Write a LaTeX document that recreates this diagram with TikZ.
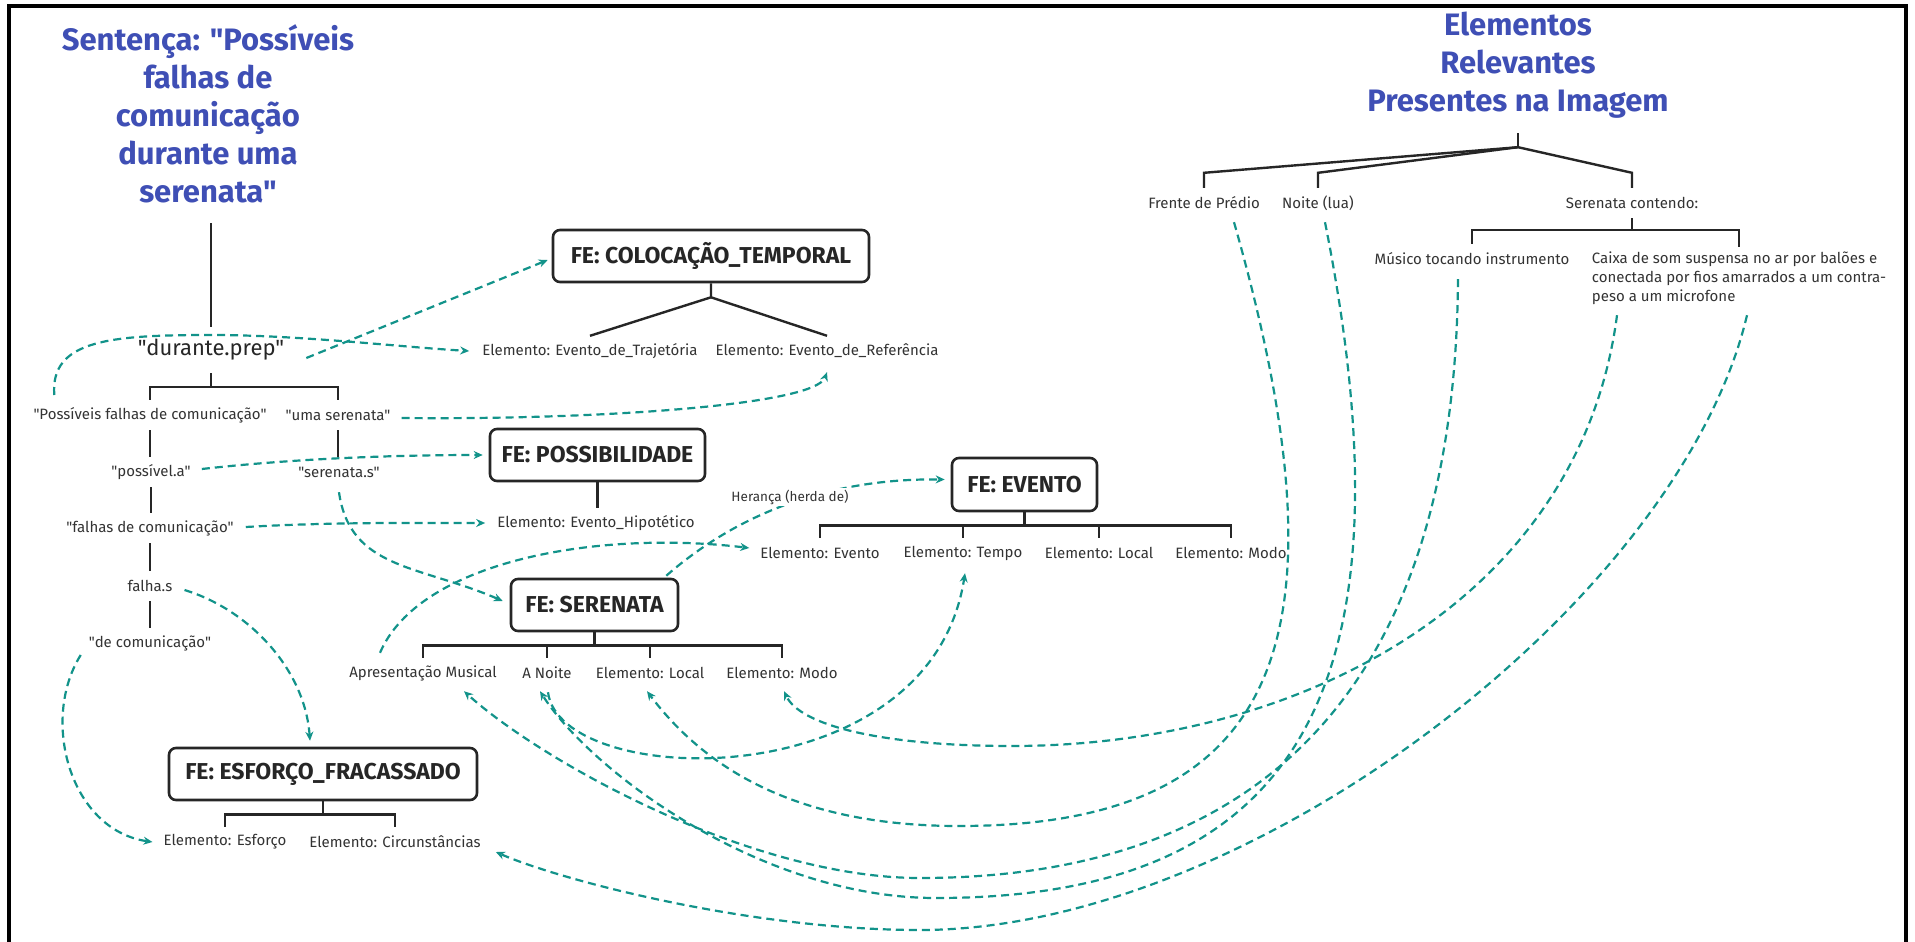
\documentclass[tikz,border=0pt]{standalone}
\usepackage{fontspec}
\setmainfont{Fira Sans}[Ligatures=TeXOff]
\usetikzlibrary{arrows.meta}
\definecolor{ttl}{HTML}{3F4FB5}
\definecolor{teal2}{HTML}{12938A}
\definecolor{ink}{HTML}{262626}
\definecolor{txt}{HTML}{333333}
\begin{document}
\begin{tikzpicture}[x=1pt,y=-1pt,
  tree/.style={draw=ink,line width=2.4pt},
  febox/.style={draw=ink,line width=2.6pt,rounded corners=7pt,fill=white,font=\fontsize{23}{27}\selectfont\bfseries,text=ink,inner sep=0pt},
  lbl/.style={font=\fontsize{15}{18}\selectfont,text=txt,inner sep=0pt,minimum height=30pt},
  ttlst/.style={font=\fontsize{31}{38}\selectfont\bfseries,text=ttl,align=center,inner sep=0pt},
  conn/.style={draw=teal2,line width=2.2pt,dash pattern=on 8pt off 5pt,-{Stealth[length=9pt,width=8pt]}},
]
\fill[white] (0,0) rectangle (1915,942);
\useasboundingbox (0,0) rectangle (1915,942);
\draw[line width=3.5pt,black] (9,942) -- (9,6) -- (1906,6) -- (1906,942);

% left title and sentence tree
\node[ttlst,minimum height=218pt] (title) at (208,114) {Sentença: "Possíveis\\falhas de\\comunicação\\durante uma\\serenata"};
\node[font=\fontsize{22}{26}\selectfont,text=ink,inner sep=0pt,minimum height=46pt] (durante) at (211,350) {"durante.prep"};
\node[lbl] (possiveis) at (150,415) {"Possíveis falhas de comunicação"};
\node[lbl] (uma) at (338,415) {"uma serenata"};
\node[lbl] (possivel) at (151,472) {"possível.a"};
\node[lbl] (serenatas) at (339,472) {"serenata.s"};
\node[lbl] (falhas) at (150,528) {"falhas de comunicação"};
\node[lbl] (falha) at (150,586) {falha.s};
\node[lbl] (decom) at (150,643) {"de comunicação"};

% frames
\node[febox,minimum width=316pt,minimum height=52pt] (colo) at (711,256) {FE: COLOCAÇÃO\_TEMPORAL};
\node[lbl] (traj) at (590,351) {Elemento: Evento\_de\_Trajetória};
\node[lbl] (ref) at (827,351) {Elemento: Evento\_de\_Referência};
\node[febox,minimum width=215pt,minimum height=52pt] (poss) at (597.5,455) {FE: POSSIBILIDADE};
\node[lbl] (hipo) at (596,523) {Elemento: Evento\_Hipotético};
\node[febox,minimum width=145pt,minimum height=53pt] (evt) at (1024.5,484.5) {FE: EVENTO};
\node[lbl] (eevento) at (820,553) {Elemento: Evento};
\node[lbl] (etempo) at (963,553) {Elemento: Tempo};
\node[lbl] (elocal) at (1099,553) {Elemento: Local};
\node[lbl] (emodo) at (1231,553) {Elemento: Modo};
\node[febox,minimum width=167pt,minimum height=52pt] (sere) at (594.5,605) {FE: SERENATA};
\node[lbl] (apres) at (423,673) {Apresentação Musical};
\node[lbl] (anoite) at (547,673) {A Noite};
\node[lbl] (slocal) at (650,673) {Elemento: Local};
\node[lbl] (smodo) at (782,673) {Elemento: Modo};
\node[febox,minimum width=308pt,minimum height=52pt] (esf) at (323,774) {FE: ESFORÇO\_FRACASSADO};
\node[lbl] (eesf) at (225,842) {Elemento: Esforço};
\node[lbl] (circ) at (395,842) {Elemento: Circunstâncias};

% right title and tree
\node[ttlst,minimum height=135pt] (title2) at (1518,65.5) {Elementos\\Relevantes\\Presentes na Imagem};
\node[lbl] (frente) at (1204,203) {Frente de Prédio};
\node[lbl] (noite) at (1318,203) {Noite (lua)};
\node[lbl] (sercont) at (1632,203) {Serenata contendo:};
\node[lbl] (musico) at (1472,259) {Músico tocando instrumento};
\node[font=\fontsize{15}{19}\selectfont,text=txt,inner sep=0pt,align=left,minimum height=62pt] (caixa) at (1739,278) {Caixa de som suspensa no ar por balões e\\conectada por fios amarrados a um contra-\\peso a um microfone};

% tree lines
\draw[tree] (title.south -| durante.north) -- (durante.north);
\draw[tree] (durante.south) -- ++(0,14) coordinate (dj) -| (possiveis.north);
\draw[tree] (dj) -| (uma.north);
\draw[tree] (possiveis.south) -- (possiveis.south |- possivel.north);
\draw[tree] (possivel.south) -- (possivel.south |- falhas.north);
\draw[tree] (falhas.south) -- (falha.north);
\draw[tree] (falha.south) -- (decom.north);
\draw[tree] (uma.south) -- (uma.south |- serenatas.north);
\draw[tree] (colo.south) -- ++(0,14) coordinate (cj) -- (traj.north);
\draw[tree] (cj) -- (ref.north);
\draw[tree] (poss.south) -- (poss.south |- hipo.north);
\draw[tree] (evt.south) -- ++(0,13) coordinate (ej);
\draw[tree] (eevento.north) |- (emodo.north |- ej) -- (emodo.north);
\draw[tree] (etempo.north) -- (etempo.north |- ej);
\draw[tree] (elocal.north) -- (elocal.north |- ej);
\draw[tree] (sere.south) -- ++(0,13) coordinate (sj);
\draw[tree] (apres.north) |- (smodo.north |- sj) -- (smodo.north);
\draw[tree] (anoite.north) -- (anoite.north |- sj);
\draw[tree] (slocal.north) -- (slocal.north |- sj);
\draw[tree] (esf.south) -- ++(0,13) coordinate (fj);
\draw[tree] (eesf.north) |- (circ.north |- fj) -- (circ.north);
\draw[tree] (title2.south) -- ++(0,14) coordinate (rj);
\draw[tree] (rj) -- ([yshift=15pt]frente.north) -- (frente.north);
\draw[tree] (rj) -- ([yshift=15pt]noite.north) -- (noite.north);
\draw[tree] (rj) -- ([yshift=15pt]sercont.north) -- (sercont.north);
\draw[tree] (sercont.south) -- ++(0,12) coordinate (kj);
\draw[tree] (musico.north) |- (caixa.north |- kj) -- (caixa.north);

% dashed connectors
\draw[conn] ([xshift=22pt,yshift=-8pt]durante.east) -- ([xshift=-4pt,yshift=-4pt]colo.west);
\draw[conn] ([xshift=21pt,yshift=20pt]possiveis.west) .. controls (50,340) and (110,335) .. (211,335) .. controls (300,335) and (400,347) .. ([xshift=-13pt]traj.west);
\draw[conn] ([xshift=11pt,yshift=-3pt]uma.east) .. controls (600,420) and (815,405) .. ([yshift=-6pt]ref.south);
\draw[conn] ([xshift=11pt,yshift=3pt]possivel.east) .. controls (300,458) and (400,455) .. ([xshift=-6pt]poss.west);
\draw[conn] ([xshift=12pt,yshift=1pt]falhas.east) .. controls (330,522) and (420,523) .. ([xshift=-12pt]hipo.west);
\draw[conn] ([yshift=-5pt]serenatas.south) .. controls (350,570) and (420,565) .. ([xshift=-7pt,yshift=4pt]sere.west);
\draw[conn] ([xshift=12pt,yshift=-4pt]falha.east) .. controls (250,610) and (305,670) .. ([xshift=-13pt,yshift=6pt]esf.north);
\draw[conn] ([xshift=-8pt,yshift=-12pt]decom.west) .. controls (40,720) and (70,830) .. ([xshift=-11pt]eesf.west);
\draw[conn] ([xshift=-43pt,yshift=5pt]apres.north) .. controls (420,560) and (600,530) .. ([xshift=-11pt,yshift=5pt]eevento.west);
\draw[conn] ([xshift=-13pt,yshift=2pt]sere.north east) .. controls (730,520) and (820,478) .. ([xshift=-6pt,yshift=5pt]evt.west);
\node[font=\fontsize{13.5}{16}\selectfont,text=txt,fill=white,inner sep=1.5pt] (heranca) at (790,497) {Herança (herda de)};
\draw[conn] ([xshift=1pt,yshift=-4pt]anoite.south) .. controls (560,790) and (930,800) .. ([xshift=2pt,yshift=-5pt]etempo.south);
\draw[conn] ([xshift=30pt,yshift=-4pt]frente.south) .. controls (1350,630) and (1290,826) .. (959,826) .. controls (800,826) and (707,771) .. ([xshift=-3pt,yshift=-3pt]slocal.south);
\draw[conn] ([xshift=7pt,yshift=-4pt]noite.south) .. controls (1420,700) and (1290,898) .. (936,898) .. controls (760,898) and (590,770) .. ([xshift=-7pt,yshift=-3pt]anoite.south);
\draw[conn] ([xshift=-14pt,yshift=-5pt]musico.south) .. controls (1455,700) and (1250,878) .. (920,878) .. controls (750,878) and (540,760) .. ([xshift=41pt,yshift=-3pt]apres.south);
\draw[conn] ([xshift=-122pt,yshift=-6pt]caixa.south) .. controls (1580,600) and (1300,746) .. (1012,746) .. controls (880,746) and (800,725) .. ([xshift=2pt,yshift=-3pt]smodo.south);
\draw[conn] ([xshift=8pt,yshift=-6pt]caixa.south) .. controls (1680,600) and (1250,930) .. (920,930) .. controls (750,930) and (560,880) .. ([xshift=15pt,yshift=-10pt]circ.east);
\end{tikzpicture}
\end{document}
